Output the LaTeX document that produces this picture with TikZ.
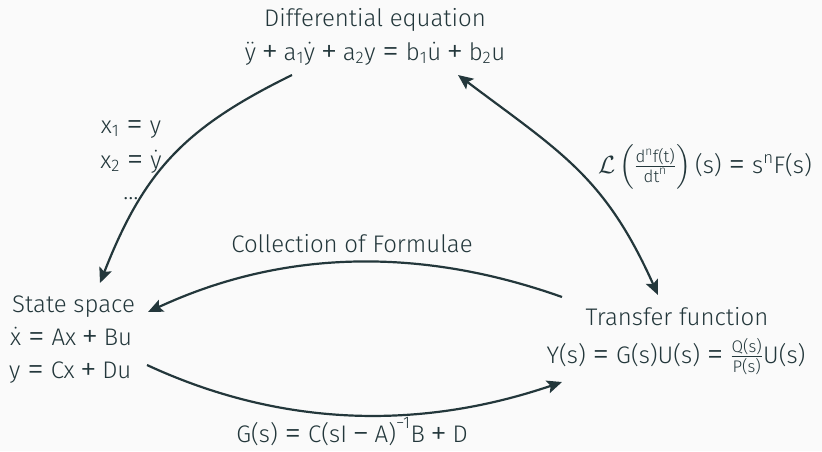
\documentclass[tikz,border=0pt]{standalone}
\usepackage{amsmath}
\usepackage{graphicx}
\usepackage{fontspec}
\setmainfont{Fira Sans Light}
\usetikzlibrary{arrows.meta}
\definecolor{mteal}{HTML}{23373B}
\definecolor{mbg}{HTML}{FAFAFA}
\newcommand\tx[1]{\text{#1}}
\newcommand\bigsym[1]{\raisebox{-2.8pt}{\scalebox{1.4}{#1}}}
\newcommand\pl{\mathbin{\text{\bigsym{+}}}}
\newcommand\eqq{\mathrel{\text{\bigsym{=}}}}
\newcommand\mn{\mathbin{\text{\bigsym{−}}}}
\begin{document}
\begin{tikzpicture}[x=1pt,y=-1pt,
  every node/.style={text=mteal, inner sep=0pt, font=\fontsize{24}{30}\selectfont},
  arr/.style={draw=mteal, line width=2.2pt, -{Stealth[length=15pt,width=13pt,inset=3pt]}},
  arrboth/.style={draw=mteal, line width=2.2pt, {Stealth[length=15pt,width=13pt,inset=3pt]}-{Stealth[length=15pt,width=13pt,inset=3pt]}}]
\fill[mbg] (0,0) rectangle (822,451);
\useasboundingbox (0,0) rectangle (822,451);
% differential equation
\node[anchor=base] (det) at (375,26) {Differential equation};
\node[anchor=base] (deq) at (375,60) {$\ddot{\tx{y}} \pl \tx{a}_{\tx{1}}\dot{\tx{y}} \pl \tx{a}_{\tx{2}}\tx{y} \eqq \tx{b}_{\tx{1}}\dot{\tx{u}} \pl \tx{b}_{\tx{2}}\tx{u}$};
% state space
\node[anchor=base west] (sst) at (12,312) {State space};
\node[anchor=base west] (ss1) at (10,345) {$\dot{\tx{x}} \eqq \tx{Ax} \pl \tx{Bu}$};
\node[anchor=base west] (ss2) at (9,378) {$\tx{y} \eqq \tx{Cx} \pl \tx{Du}$};
% transfer function
\node[anchor=base] (tft) at (677,325) {Transfer function};
\node[anchor=base] (tfq) at (676,363) {$\tx{Y(s)} \eqq \tx{G(s)U(s)} \eqq \frac{\tx{Q(s)}}{\tx{P(s)}}\tx{U(s)}$};
% labels
\node[anchor=base] (l1) at (131,133) {$\tx{x}_{\tx{1}} \eqq \tx{y}$};
\node[anchor=base] (l2) at (131,168) {$\tx{x}_{\tx{2}} \eqq \dot{\tx{y}}$};
\node[anchor=base] (l3) at (131,199) {…};
\node[anchor=base] (lap) at (705,173) {$\mathcal{L}\left(\frac{\tx{d}^{\tx{n}}\tx{f(t)}}{\tx{dt}^{\tx{n}}}\right)\tx{(s)} \eqq \tx{s}^{\tx{n}}\tx{F(s)}$};
\node[anchor=base] (cof) at (352,252) {Collection of Formulae};
\node[anchor=base] (gs) at (352,442) {$\tx{G(s)} \eqq \tx{C(sI} \mn \tx{A)}^{\tx{−1}}\tx{B} \pl \tx{D}$};
% connector ends
\coordinate (a1s) at (292,75);
\coordinate (a1e) at (100,283);
\coordinate (a2s) at (458,75);
\coordinate (a2e) at (658,295);
\coordinate (a3s) at (562,297);
\coordinate (a3e) at (148,312);
\coordinate (a4s) at (147,365);
\coordinate (a4e) at (562,382);
\draw[arr] (a1s) .. controls (184,128) and (144,171) .. (a1e);
\draw[arrboth] (a2s) .. controls (562,153) and (605,177) .. (a2e);
\draw[arr] (a3s) .. controls (424,248) and (286,248) .. (a3e);
\draw[arr] (a4s) .. controls (285,429) and (424,429) .. (a4e);
\end{tikzpicture}
\end{document}
